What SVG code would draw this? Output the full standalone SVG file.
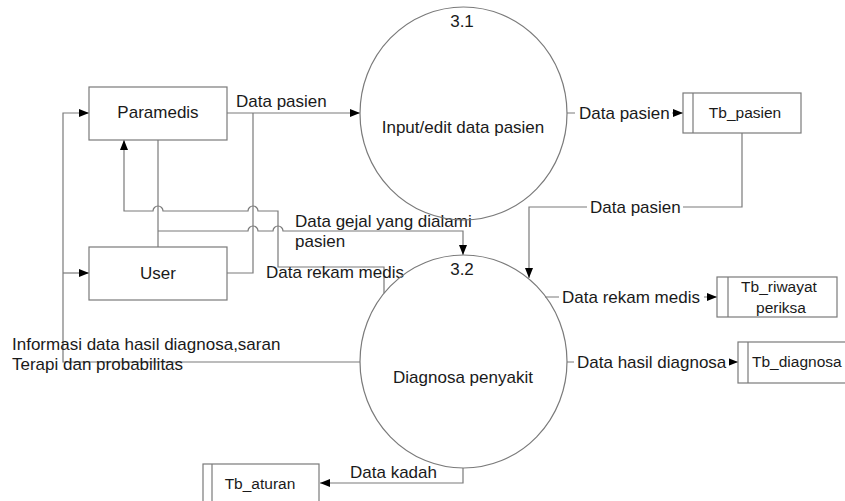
<svg xmlns="http://www.w3.org/2000/svg" width="845" height="501" viewBox="0 0 845 501">
<defs>
<style>
.ln{fill:none;stroke:#7a7a7a;stroke-width:1.2}
.box{fill:#fff;stroke:#7a7a7a;stroke-width:1.2}
.t{font-family:"Liberation Sans",Arial,sans-serif;font-size:17px;fill:#1a1a1a}
.tb{font-family:"Liberation Sans",Arial,sans-serif;font-size:15.5px;fill:#1a1a1a}
.m{text-anchor:middle}
.bg{fill:#fff}
</style>
<marker id="ah" markerWidth="10" markerHeight="8" refX="10" refY="4" orient="auto" markerUnits="userSpaceOnUse">
<path d="M0,0 L10,4 L0,8 z" fill="#000"/>
</marker>
</defs>
<rect width="845" height="501" fill="#fff"/>

<g id="connectors">
<path class="ln" d="M360,362 H63 V113 H89" marker-end="url(#ah)"/>
<path class="ln" d="M63,273 H89" marker-end="url(#ah)"/>
<path class="ln" d="M227,113 H360" marker-end="url(#ah)"/>
<path class="ln" d="M227,273 H253 V113"/>
<path class="ln" d="M158,140 V247"/>
<path class="ln" d="M158,231 H248 A5,5 0 0 1 258,231 H273 A5,5 0 0 1 283,231 H463 V255" marker-end="url(#ah)"/>
<path class="ln" d="M384,293 V267 H278 V211 H258 A5,5 0 0 0 248,211 H163 A5,5 0 0 0 153,211 H124 V140" marker-end="url(#ah)"/>
<path class="ln" d="M567,113 H683" marker-end="url(#ah)"/>
<path class="ln" d="M742,133 V207 H529 V278" marker-end="url(#ah)"/>
<path class="ln" d="M545,297 H717" marker-end="url(#ah)"/>
<path class="ln" d="M567,362 H738" marker-end="url(#ah)"/>
<path class="ln" d="M463,468 V483 H320" marker-end="url(#ah)"/>

<text class="t" x="236" y="107">Data pasien</text>
<text class="t" x="295" y="227">Data gejal yang dialami</text>
<text class="t" x="295" y="247">pasien</text>
<text class="t" x="266" y="278">Data rekam medis</text>
<rect class="bg" x="575" y="103" width="97" height="19"/>
<text class="t" x="579" y="119">Data pasien</text>
<rect class="bg" x="587" y="198" width="96" height="19"/>
<text class="t" x="590" y="213">Data pasien</text>
<rect class="bg" x="559" y="287" width="145" height="19"/>
<text class="t" x="562" y="303">Data rekam medis</text>
<rect class="bg" x="574" y="352" width="155" height="19"/>
<text class="t" x="577" y="368">Data hasil diagnosa</text>
<text class="t" x="350" y="478">Data kadah</text>
<text class="t" x="12" y="350">Informasi data hasil diagnosa,saran</text>
<text class="t" x="12" y="370">Terapi dan probabilitas</text>
</g>

<g id="paramedis">
<rect class="box" x="89" y="87" width="138" height="53"/>
<text class="t m" x="158" y="118">Paramedis</text>
</g>

<g id="user">
<rect class="box" x="89" y="247" width="138" height="53"/>
<text class="t m" x="158" y="279">User</text>
</g>

<g id="p31">
<ellipse cx="463.5" cy="113.5" rx="103.5" ry="106.5" fill="none" stroke="#7a7a7a" stroke-width="1.2"/>
<text class="t m" x="462" y="27">3.1</text>
<text class="t m" x="463" y="133">Input/edit data pasien</text>
</g>

<g id="p32">
<ellipse cx="463.5" cy="361.5" rx="103.5" ry="106.5" fill="none" stroke="#7a7a7a" stroke-width="1.2"/>
<text class="t m" x="462" y="275">3.2</text>
<text class="t m" x="463" y="383">Diagnosa penyakit</text>
</g>

<g id="tb_pasien">
<rect class="box" x="683" y="93" width="118" height="40"/>
<line class="ln" x1="693" y1="93" x2="693" y2="133"/>
<text class="tb m" x="745" y="118">Tb_pasien</text>
</g>

<g id="tb_riwayat">
<rect class="box" x="717" y="277" width="120" height="40"/>
<line class="ln" x1="728" y1="277" x2="728" y2="317"/>
<text class="tb m" x="779" y="292">Tb_riwayat</text>
<text class="tb m" x="781" y="313">periksa</text>
</g>

<g id="tb_diagnosa">
<rect class="box" x="738" y="342" width="120" height="41"/>
<line class="ln" x1="748" y1="342" x2="748" y2="383"/>
<text class="tb" x="752" y="367">Tb_diagnosa</text>
</g>

<g id="tb_aturan">
<rect class="box" x="203" y="464" width="116" height="45"/>
<line class="ln" x1="212" y1="464" x2="212" y2="509"/>
<text class="tb m" x="260" y="489">Tb_aturan</text>
</g>
</svg>
